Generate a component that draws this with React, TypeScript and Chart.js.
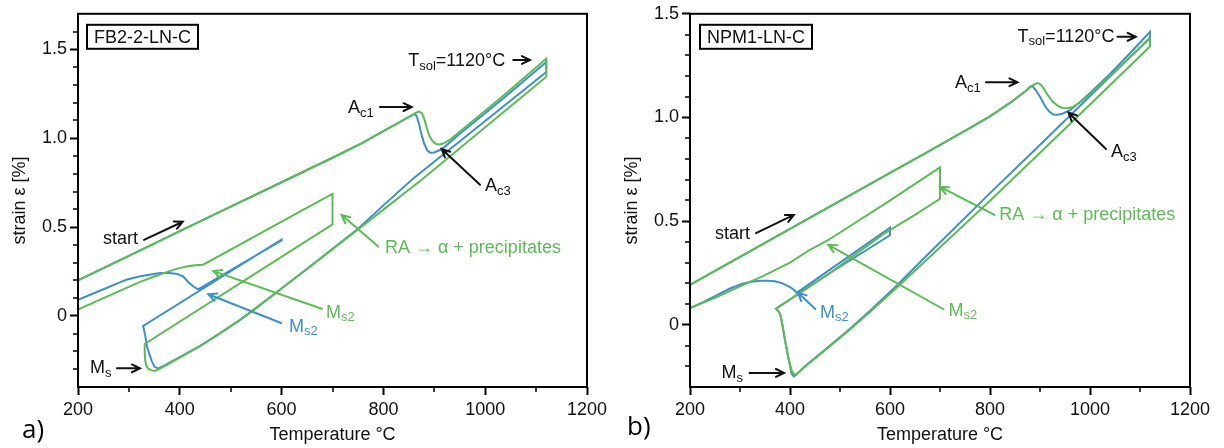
import React, { useEffect, useRef } from 'react';
import { Chart, registerables } from 'chart.js';

Chart.register(...registerables);

// ---------- Panel a) FB2-2-LN-C ----------
const aGreenT = [200, 300, 400, 500, 600, 700, 759, 800, 840, 862, 870, 876, 880, 885, 890, 896, 903, 910, 918, 930, 960, 1000, 1040, 1080, 1120,
  1120, 1000, 877, 800, 750, 674, 635, 596, 556, 517, 478, 439, 400, 370, 361, 351, 343, 338, 334, 332, 331, 331,
  700, 700, 635, 446, 430, 413, 395, 380, 350, 321, 280, 240, 200];
const aGreenStrain = [0.2, 0.338, 0.477, 0.615, 0.752, 0.89, 0.974, 1.04, 1.103, 1.14, 1.151, 1.14, 1.11, 1.06, 1.015, 0.985, 0.968, 0.965, 0.97, 0.99, 1.06, 1.155, 1.25, 1.348, 1.448,
  1.346, 1.062, 0.77, 0.598, 0.486, 0.318, 0.232, 0.146, 0.058, -0.025, -0.1, -0.172, -0.235, -0.282, -0.297, -0.31, -0.305, -0.297, -0.28, -0.25, -0.2, -0.158,
  0.515, 0.687, 0.585, 0.288, 0.285, 0.278, 0.266, 0.252, 0.222, 0.19, 0.138, 0.087, 0.035];

const aBlueT = [200, 300, 400, 500, 600, 700, 759, 800, 840, 856, 862, 866, 870, 875, 880, 886, 892, 900, 910, 920, 950, 1000, 1040, 1080, 1120,
  1120, 1000, 857.5, 800, 750, 674, 635, 596, 556, 517, 478, 439, 400, 370, 357.5, 350, 344.4, 335.9, 331.4, 328,
  600, 600, 436, 426, 415, 406.5, 395, 380, 361, 340, 320, 295, 250, 200];
const aBlueStrain = [0.2, 0.338, 0.477, 0.615, 0.752, 0.89, 0.974, 1.04, 1.103, 1.128, 1.136, 1.12, 1.08, 1.02, 0.97, 0.932, 0.918, 0.92, 0.932, 0.95, 1.025, 1.14, 1.235, 1.332, 1.429,
  1.373, 1.097, 0.77, 0.622, 0.49, 0.318, 0.232, 0.146, 0.058, -0.025, -0.1, -0.17, -0.232, -0.278, -0.297, -0.285, -0.25, -0.176, -0.1, -0.056,
  0.43, 0.425, 0.149, 0.167, 0.195, 0.223, 0.236, 0.241, 0.241, 0.232, 0.222, 0.204, 0.15, 0.09];

// ---------- Panel b) NPM1-LN-C ----------
const bGreenT = [200, 300, 400, 500, 600, 667.5, 756, 800, 840, 870, 885, 894, 900, 906, 915, 925, 935, 945, 955, 965, 980, 1000, 1040, 1080, 1120,
  1120, 907.5, 800, 667.5, 614.8, 560, 516, 450, 430, 418, 413, 409, 404, 398, 392, 388, 384, 381.5, 378, 372,
  480, 588, 650, 700, 700, 595, 476.7, 440, 400, 350, 300, 250, 200];
const bGreenStrain = [0.193, 0.328, 0.463, 0.598, 0.733, 0.823, 0.944, 1.005, 1.07, 1.125, 1.155, 1.166, 1.162, 1.145, 1.11, 1.078, 1.057, 1.046, 1.045, 1.05, 1.072, 1.112, 1.2, 1.29, 1.381,
  1.342, 0.847, 0.598, 0.3, 0.182, 0.062, -0.031, -0.163, -0.202, -0.228, -0.24, -0.24, -0.225, -0.174, -0.1, -0.046, 0.01, 0.042, 0.062, 0.078,
  0.25, 0.44, 0.53, 0.608, 0.759, 0.592, 0.409, 0.362, 0.3, 0.24, 0.185, 0.13, 0.081];

const bBlueT = [200, 300, 400, 500, 600, 667.5, 756, 800, 840, 870, 881, 886, 892, 900, 910, 918, 926.6, 935, 945, 960, 980, 1000, 1040, 1080, 1120,
  1120, 891, 800, 667.5, 614.8, 560, 516, 450, 430, 418, 407.7, 403, 398, 392, 388, 384, 381.5, 378, 372,
  480, 600, 600, 417.6, 414, 407.7, 400, 385, 370, 355, 340, 320, 305, 280, 250, 225, 200];
const bBlueStrain = [0.193, 0.328, 0.463, 0.598, 0.733, 0.823, 0.944, 1.005, 1.07, 1.125, 1.15, 1.148, 1.13, 1.1, 1.055, 1.03, 1.014, 1.013, 1.018, 1.035, 1.075, 1.118, 1.21, 1.31, 1.413,
  1.385, 0.847, 0.635, 0.32, 0.192, 0.068, -0.027, -0.16, -0.2, -0.228, -0.25, -0.235, -0.174, -0.1, -0.046, 0.01, 0.042, 0.062, 0.078,
  0.25, 0.432, 0.468, 0.161, 0.155, 0.169, 0.182, 0.2, 0.21, 0.213, 0.212, 0.206, 0.198, 0.175, 0.138, 0.108, 0.08];

// ---------- Ticks ----------
const xMajorTicks = [200, 400, 600, 800, 1000, 1200];
const xMinorTicks = [300, 500, 700, 900, 1100];
const yMajorTicks = [0, 0.5, 1.0, 1.5];
const aYMinorTicks = [-0.3, -0.2, -0.1, 0.1, 0.2, 0.3, 0.4, 0.6, 0.7, 0.8, 0.9, 1.1, 1.2, 1.3, 1.4, 1.6];
const bYMinorTicks = [-0.2, -0.1, 0.1, 0.2, 0.3, 0.4, 0.6, 0.7, 0.8, 0.9, 1.1, 1.2, 1.3, 1.4];

// ---------- Annotations (data coordinates) ----------
type Lbl = { x: number; y: number; parts: [string, string, string]; color: string };
type Arr = { x1: number; y1: number; x2: number; y2: number; color: string };

const GREEN = '#5DBB55';
const BLUE = '#3E8FCB';
const BLACK = '#111111';

const aLabels: Lbl[] = [
  { x: 249, y: 0.43, parts: ['start', '', ''], color: BLACK },
  { x: 223.6, y: -0.295, parts: ['M', 's', ''], color: BLACK },
  { x: 730.5, y: 1.169, parts: ['A', 'c1', ''], color: BLACK },
  { x: 999.6, y: 0.731, parts: ['A', 'c3', ''], color: BLACK },
  { x: 848.8, y: 1.433, parts: ['T', 'sol', '=1120°C'], color: BLACK },
  { x: 803, y: 0.38, parts: ['RA → α + precipitates', '', ''], color: GREEN },
  { x: 687, y: 0.018, parts: ['M', 's2', ''], color: GREEN },
  { x: 614.5, y: -0.06, parts: ['M', 's2', ''], color: BLUE },
];
const aArrows: Arr[] = [
  { x1: 329.7, y1: 0.428, x2: 405.7, y2: 0.53, color: BLACK },
  { x1: 276.6, y1: -0.295, x2: 321.8, y2: -0.295, color: BLACK },
  { x1: 793.3, y1: 1.175, x2: 855.6, y2: 1.175, color: BLACK },
  { x1: 989.8, y1: 0.738, x2: 914.5, y2: 0.939, color: BLACK },
  { x1: 1055, y1: 1.44, x2: 1088, y2: 1.44, color: BLACK },
  { x1: 790, y1: 0.39, x2: 718, y2: 0.568, color: GREEN },
  { x1: 679, y1: 0.04, x2: 466, y2: 0.252, color: GREEN },
  { x1: 599, y1: -0.04, x2: 456, y2: 0.122, color: BLUE },
];
const bLabels: Lbl[] = [
  { x: 250, y: 0.436, parts: ['start', '', ''], color: BLACK },
  { x: 263, y: -0.233, parts: ['M', 's', ''], color: BLACK },
  { x: 460, y: 0.058, parts: ['M', 's2', ''], color: BLUE },
  { x: 716.8, y: 0.067, parts: ['M', 's2', ''], color: GREEN },
  { x: 818.7, y: 0.53, parts: ['RA → α + precipitates', '', ''], color: GREEN },
  { x: 730, y: 1.166, parts: ['A', 'c1', ''], color: BLACK },
  { x: 1042, y: 0.832, parts: ['A', 'c3', ''], color: BLACK },
  { x: 855, y: 1.389, parts: ['T', 'sol', '=1120°C'], color: BLACK },
];
const bArrows: Arr[] = [
  { x1: 332, y1: 0.442, x2: 407.7, y2: 0.53, color: BLACK },
  { x1: 319, y1: -0.232, x2: 388, y2: -0.232, color: BLACK },
  { x1: 450.5, y1: 0.076, x2: 416, y2: 0.155, color: BLUE },
  { x1: 707, y1: 0.075, x2: 476.7, y2: 0.386, color: GREEN },
  { x1: 809, y1: 0.53, x2: 700.4, y2: 0.665, color: GREEN },
  { x1: 792, y1: 1.17, x2: 855, y2: 1.17, color: BLACK },
  { x1: 1032, y1: 0.848, x2: 957, y2: 1.023, color: BLACK },
  { x1: 1055, y1: 1.389, x2: 1091.5, y2: 1.389, color: BLACK },
];

const FONT = '"Liberation Sans", Arial, Helvetica, sans-serif';

type PanelCfg = {
  greenT: number[]; greenS: number[]; blueT: number[]; blueS: number[];
  yMin: number; yMax: number; yMinor: number[];
  labels: Lbl[]; arrows: Arr[];
  boxText: string; boxDx: number; boxW: number;
  letter: string; letterX: number; letterY: number;
  padRight: number;
};

function pts(t: number[], s: number[]) {
  return t.map((x, i) => ({ x, y: s[i] }));
}

function drawArrow(ctx: CanvasRenderingContext2D, x1: number, y1: number, x2: number, y2: number, color: string) {
  const ang = Math.atan2(y2 - y1, x2 - x1);
  const L = 9, A = 0.45;
  ctx.strokeStyle = color;
  ctx.lineWidth = 2;
  ctx.lineCap = 'round';
  ctx.beginPath();
  ctx.moveTo(x1, y1);
  ctx.lineTo(x2, y2);
  ctx.moveTo(x2 - L * Math.cos(ang - A), y2 - L * Math.sin(ang - A));
  ctx.lineTo(x2, y2);
  ctx.lineTo(x2 - L * Math.cos(ang + A), y2 - L * Math.sin(ang + A));
  ctx.stroke();
}

function drawRich(ctx: CanvasRenderingContext2D, x: number, y: number, parts: [string, string, string], color: string) {
  const [a, sub, rest] = parts;
  ctx.fillStyle = color;
  ctx.textBaseline = 'middle';
  ctx.textAlign = 'left';
  ctx.font = `18px ${FONT}`;
  ctx.fillText(a, x, y);
  let cx = x + ctx.measureText(a).width;
  if (sub) {
    ctx.font = `13px ${FONT}`;
    ctx.fillText(sub, cx, y + 5);
    cx += ctx.measureText(sub).width;
  }
  if (rest) {
    ctx.font = `18px ${FONT}`;
    ctx.fillText(rest, cx, y);
  }
}

function makeDecor(cfg: PanelCfg) {
  return {
    id: 'decor',
    afterDraw(chart: any) {
      const ctx: CanvasRenderingContext2D = chart.ctx;
      const ca = chart.chartArea;
      const xs = chart.scales.x;
      const ys = chart.scales.y;
      ctx.save();
      ctx.strokeStyle = '#000';
      ctx.lineWidth = 2;
      ctx.strokeRect(ca.left, ca.top, ca.right - ca.left, ca.bottom - ca.top);
      ctx.lineWidth = 1.5;
      ctx.beginPath();
      xMinorTicks.forEach((v) => {
        const px = Math.round(xs.getPixelForValue(v));
        ctx.moveTo(px, ca.bottom);
        ctx.lineTo(px, ca.bottom + 5);
      });
      cfg.yMinor.forEach((v) => {
        const py = Math.round(ys.getPixelForValue(v));
        ctx.moveTo(ca.left - 5, py);
        ctx.lineTo(ca.left, py);
      });
      ctx.stroke();
      const bx = ca.left + cfg.boxDx, by = ca.top + 11, bh = 24;
      ctx.fillStyle = '#fff';
      ctx.fillRect(bx, by, cfg.boxW, bh);
      ctx.lineWidth = 2;
      ctx.strokeStyle = '#000';
      ctx.strokeRect(bx, by, cfg.boxW, bh);
      ctx.fillStyle = BLACK;
      ctx.font = `18px ${FONT}`;
      ctx.textAlign = 'center';
      ctx.textBaseline = 'middle';
      ctx.fillText(cfg.boxText, bx + cfg.boxW / 2, by + bh / 2 + 1);
      cfg.arrows.forEach((a) => {
        drawArrow(ctx, xs.getPixelForValue(a.x1), ys.getPixelForValue(a.y1), xs.getPixelForValue(a.x2), ys.getPixelForValue(a.y2), a.color);
      });
      cfg.labels.forEach((l) => {
        drawRich(ctx, xs.getPixelForValue(l.x), ys.getPixelForValue(l.y), l.parts, l.color);
      });
      ctx.fillStyle = '#000';
      ctx.font = `26px "Open Sans", "Noto Sans", sans-serif`;
      ctx.textAlign = 'left';
      ctx.textBaseline = 'middle';
      ctx.fillText(cfg.letter, cfg.letterX, cfg.letterY);
      ctx.restore();
    },
  };
}

function Panel({ cfg }: { cfg: PanelCfg }) {
  const ref = useRef<HTMLCanvasElement>(null);
  useEffect(() => {
    const chart = new Chart(ref.current as HTMLCanvasElement, {
      type: 'scatter',
      data: {
        datasets: [
          { data: pts(cfg.greenT, cfg.greenS), borderColor: GREEN, backgroundColor: GREEN, borderWidth: 2, showLine: true, pointRadius: 0, tension: 0, order: 0 } as any,
          { data: pts(cfg.blueT, cfg.blueS), borderColor: BLUE, backgroundColor: BLUE, borderWidth: 2, showLine: true, pointRadius: 0, tension: 0, order: 1 } as any,
        ],
      },
      options: {
        responsive: false,
        animation: false,
        devicePixelRatio: 1,
        events: [],
        layout: { padding: { left: 0, top: 10, right: cfg.padRight, bottom: 0 } },
        plugins: { legend: { display: false }, tooltip: { enabled: false } },
        scales: {
          x: {
            type: 'linear',
            position: 'bottom',
            min: 200,
            max: 1200,
            afterBuildTicks: (s: any) => { s.ticks = xMajorTicks.map((v) => ({ value: v })); },
            afterFit: (s: any) => { s.height = 61; },
            ticks: { autoSkip: false, maxRotation: 0, padding: 4, color: BLACK, font: { family: FONT, size: 18 }, callback: (v: any) => String(v) },
            grid: { display: true, drawOnChartArea: false, drawTicks: true, tickLength: 8, tickWidth: 2, tickColor: '#000' },
            border: { display: false },
            title: { display: true, text: 'Temperature °C', color: BLACK, font: { family: FONT, size: 18 }, padding: { top: 0, bottom: 2 } },
          },
          y: {
            type: 'linear',
            position: 'left',
            min: cfg.yMin,
            max: cfg.yMax,
            afterBuildTicks: (s: any) => { s.ticks = yMajorTicks.map((v) => ({ value: v })); },
            afterFit: (s: any) => { s.width = 78; },
            ticks: { autoSkip: false, padding: 3, color: BLACK, font: { family: FONT, size: 18 }, callback: (v: any) => (Number(v) === 0 ? '0' : Number(v).toFixed(1)) },
            grid: { display: true, drawOnChartArea: false, drawTicks: true, tickLength: 8, tickWidth: 2, tickColor: '#000' },
            border: { display: false },
            title: { display: true, text: 'strain ε [%]', color: BLACK, font: { family: FONT, size: 18 }, padding: { top: 9, bottom: 0 } },
          },
        },
      } as any,
      plugins: [makeDecor(cfg)],
    });
    return () => chart.destroy();
  }, [cfg]);
  return <canvas ref={ref} width={612} height={448} style={{ display: 'block', width: 612, height: 448 }} />;
}

const panelA: PanelCfg = {
  greenT: aGreenT, greenS: aGreenStrain, blueT: aBlueT, blueS: aBlueStrain,
  yMin: -0.4, yMax: 1.7, yMinor: aYMinorTicks,
  labels: aLabels, arrows: aArrows,
  boxText: 'FB2-2-LN-C', boxDx: 9, boxW: 111,
  letter: 'a)', letterX: 22, letterY: 431,
  padRight: 25,
};
const panelB: PanelCfg = {
  greenT: bGreenT, greenS: bGreenStrain, blueT: bBlueT, blueS: bBlueStrain,
  yMin: -0.3, yMax: 1.5, yMinor: bYMinorTicks,
  labels: bLabels, arrows: bArrows,
  boxText: 'NPM1-LN-C', boxDx: 10, boxW: 112,
  letter: 'b)', letterX: 15, letterY: 428,
  padRight: 34,
};

export default function App() {
  return (
    <div style={{ position: 'absolute', left: 0, top: 0, width: 1224, height: 448, display: 'flex', background: '#fff' }}>
      <Panel cfg={panelA} />
      <Panel cfg={panelB} />
    </div>
  );
}
